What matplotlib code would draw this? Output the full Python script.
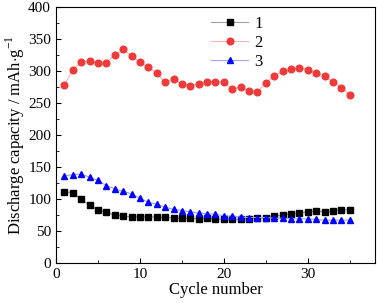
import matplotlib
matplotlib.use('Agg')
import matplotlib.pyplot as plt
from matplotlib.ticker import MultipleLocator

plt.rcParams['font.family'] = 'Liberation Serif'
plt.rcParams['mathtext.fontset'] = 'custom'
plt.rcParams['mathtext.rm'] = 'Liberation Serif'

cycles = list(range(1, 36))
cap1 = [111, 110, 100, 90, 83, 79, 75, 73, 72, 72, 72, 72, 72, 70, 70, 70, 69, 70, 69, 68,
        68, 68, 69, 70, 71, 73, 75, 77, 78, 80, 81, 80, 82, 83, 83]
cap2 = [278, 302, 314, 316, 313, 313, 325, 334, 323, 314, 306, 297, 282, 288, 280, 277, 280, 282, 283, 282,
        272, 275, 268, 267, 281, 292, 300, 303, 305, 302, 297, 292, 283, 274, 263]
cap3 = [136, 138, 139, 134, 129, 121, 116, 112, 108, 101, 95, 92, 87, 84, 82, 80, 78, 77, 76, 74,
        73, 72, 71, 71, 71, 70, 70, 69, 69, 69, 68, 67, 67, 67, 67]

fig = plt.figure(figsize=(3.77, 3.03), dpi=100)
ax = fig.add_axes([0.1485, 0.132, 0.8462, 0.845])

ax.plot(cycles, cap1, '-', color='#a0a0a0', lw=0.8, marker='s', ms=4, mfc='black', mec='black', label='1')
ax.plot(cycles, cap2, '-', color='#ffb0b0', lw=0.8, marker='o', ms=4.8, mfc='#f03a3a', mec='#f03a3a', label='2')
ax.plot(cycles, cap3, '-', color='#a0a0ff', lw=0.8, marker='^', ms=5, mfc='blue', mec='blue', label='3')

ax.set_xlim(0, 38)
ax.set_ylim(0, 400)
ax.xaxis.set_major_locator(MultipleLocator(10))
ax.xaxis.set_minor_locator(MultipleLocator(5))
ax.yaxis.set_major_locator(MultipleLocator(50))
ax.yaxis.set_minor_locator(MultipleLocator(25))
ax.tick_params(which='both', direction='in', top=False, right=False, labelsize=11)
ax.tick_params(which='major', length=3.5)
ax.tick_params(which='minor', length=2)

ax.set_xlabel('Cycle number', fontsize=12, labelpad=1)
ax.set_ylabel('Discharge capacity / mAh$\\cdot$g$^{-1}$', fontsize=12, labelpad=1)

ax.legend(loc='upper left', bbox_to_anchor=(0.44, 1.025), frameon=False, fontsize=12,
          handlelength=2.2, labelspacing=0.2, handletextpad=0.4)

fig.savefig('out.png', dpi=100)
